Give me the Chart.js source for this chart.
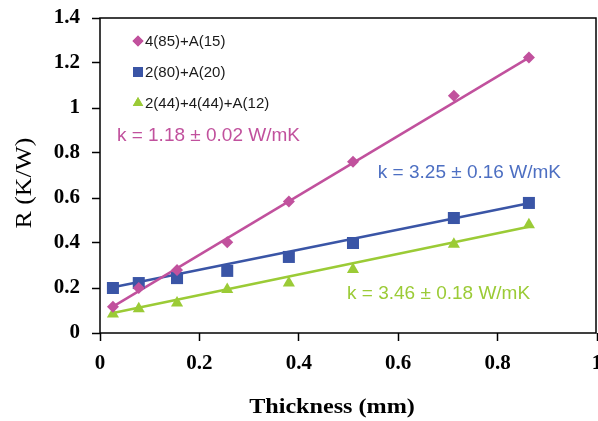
<!DOCTYPE html>
<html>
<head>
<meta charset="utf-8">
<script src="https://cdn.jsdelivr.net/npm/chart.js@4.4.1/dist/chart.umd.min.js"></script>
<style>
  html, body { margin: 0; padding: 0; background: #fff; }
  #wrap { width: 598px; height: 421px; }
</style>
</head>
<body>
<div id="wrap"><canvas id="rChart"></canvas></div>
<script>
// --- data: thermal resistance vs. thickness ---
const thickness = [0.026, 0.078, 0.155, 0.256, 0.380, 0.509, 0.712, 0.863];
const r4_85 = [0.117, 0.200, 0.280, 0.403, 0.584, 0.761, 1.055, 1.224];
const r2_80 = [0.200, 0.222, 0.244, 0.276, 0.338, 0.400, 0.511, 0.578];
const rMix  = [0.085, 0.108, 0.133, 0.193, 0.222, 0.282, 0.395, 0.481];

// linear fit end points
const fitX     = [0.026, 0.863];
const fit4_85  = [0.117, 1.224];
const fit2_80  = [0.203, 0.577];
const fitMix   = [0.089, 0.472];

const seriesNames = ['4(85)+A(15)', '2(80)+A(20)', '2(44)+4(44)+A(12)'];
const kLabels = ['k = 1.18 ± 0.02 W/mK', 'k = 3.25 ± 0.16 W/mK', 'k = 3.46 ± 0.18 W/mK'];

const xTicks = [0, 0.2, 0.4, 0.6, 0.8, 1];
const yTicks = [0, 0.2, 0.4, 0.6, 0.8, 1, 1.2, 1.4];

const PINK = '#c1519d';
const BLUE = '#3a55a6';
const GREEN = '#9bcb36';

const pts = (xs, ys) => xs.map((x, i) => ({ x: x, y: ys[i] }));

const markers = [
    { data: r4_85, color: PINK, style: 'rectRot', radius: 6 },
    { data: r2_80, color: BLUE, style: 'rect', radius: 8.5 },
    { data: rMix, color: GREEN, style: 'triangle', radius: 7 }
];
const fits = [fit4_85, fit2_80, fitMix];

const datasets = [];
markers.forEach((m, i) => {
    datasets.push({
        label: seriesNames[i],
        data: pts(thickness, m.data),
        showLine: false,
        pointStyle: m.style,
        pointRadius: m.radius,
        pointBackgroundColor: m.color,
        pointBorderColor: m.color,
        pointBorderWidth: 0
    });
});
fits.forEach((f, i) => {
    datasets.push({
        label: 'fit ' + seriesNames[i],
        data: pts(fitX, f),
        showLine: true,
        pointRadius: 0,
        borderColor: markers[i].color,
        borderWidth: 2.5
    });
});

// where each k label sits, in data units (left edge, vertical middle)
const kAnchors = [
    { x: 0.034, y: 0.876, color: '#c1519d' },
    { x: 0.559, y: 0.711, color: '#4d6fc2' },
    { x: 0.497, y: 0.173, color: '#9bcb36' }
];

const decorPlugin = {
    id: 'decor',
    afterDraw(chart) {
        const { ctx, chartArea: a, scales } = chart;
        ctx.save();

        // plot frame
        ctx.strokeStyle = '#000';
        ctx.lineWidth = 1.5;
        ctx.strokeRect(a.left, a.top, a.right - a.left - 1, a.bottom - a.top);

        // legend, top left inside the plot
        ctx.font = '15px "Liberation Sans", Arial, sans-serif';
        ctx.textBaseline = 'middle';
        ctx.textAlign = 'left';
        const legY = [41, 72, 103];
        markers.forEach((m, i) => {
            const r = m.style === 'rect' ? 7 : m.style === 'triangle' ? 6 : 5.5;
            ctx.fillStyle = m.color;
            Chart.helpers.drawPoint(ctx, { pointStyle: m.style, radius: r, borderWidth: 0 }, 138, legY[i]);
            ctx.fill();
            ctx.fillStyle = '#1a1a1a';
            ctx.fillText(seriesNames[i], 145, legY[i] + 1);
        });

        // slope annotations
        ctx.font = '19px "Liberation Sans", Arial, sans-serif';
        kAnchors.forEach((k, i) => {
            ctx.fillStyle = k.color;
            ctx.fillText(kLabels[i], scales.x.getPixelForValue(k.x), scales.y.getPixelForValue(k.y));
        });

        // axis titles (slightly widened serif)
        ctx.fillStyle = '#000';
        ctx.textAlign = 'center';
        ctx.save();
        ctx.translate(332, 408);
        ctx.scale(1.15, 1);
        ctx.font = 'bold 21px "Liberation Serif", "Times New Roman", serif';
        ctx.fillText('Thickness (mm)', 0, 0);
        ctx.restore();
        ctx.save();
        ctx.translate(25, 183);
        ctx.rotate(-Math.PI / 2);
        ctx.scale(1.12, 1);
        ctx.font = '23px "Liberation Serif", "Times New Roman", serif';
        ctx.fillText('R (K/W)', 0, 0);
        ctx.restore();

        ctx.restore();
    }
};

const tickFont = { family: '"Liberation Serif", "Times New Roman", serif', size: 21, weight: 'bold' };

new Chart(document.getElementById('rChart'), {
    type: 'scatter',
    data: { datasets: datasets },
    options: {
        responsive: true,
        maintainAspectRatio: false,
        animation: false,
        layout: { autoPadding: false, padding: { top: 18, right: 1, left: 0, bottom: 0 } },
        plugins: { legend: { display: false }, tooltip: { enabled: false } },
        scales: {
            x: {
                type: 'linear',
                min: 0, max: 1,
                afterBuildTicks: s => { s.ticks = xTicks.map(v => ({ value: v })); },
                afterFit: s => { s.height = 88; s.paddingLeft = 0; s.paddingRight = 0; },
                grid: { drawOnChartArea: false, drawTicks: true, tickLength: 8, tickColor: '#000', tickWidth: 1.5 },
                border: { display: false },
                ticks: { color: '#000', font: tickFont, padding: 10, maxRotation: 0,
                         callback: v => String(Number(v.toFixed(1))) }
            },
            y: {
                type: 'linear',
                min: 0, max: 1.4,
                afterBuildTicks: s => { s.ticks = yTicks.map(v => ({ value: v })); },
                afterFit: s => { s.width = 100; s.paddingTop = 0; s.paddingBottom = 0; },
                grid: { drawOnChartArea: false, drawTicks: true, tickLength: 8, tickColor: '#000', tickWidth: 1.5 },
                border: { display: false },
                ticks: { color: '#000', font: tickFont, padding: 12,
                         callback: v => String(Number(v.toFixed(1))) }
            }
        }
    },
    plugins: [decorPlugin]
});
</script>
</body>
</html>
